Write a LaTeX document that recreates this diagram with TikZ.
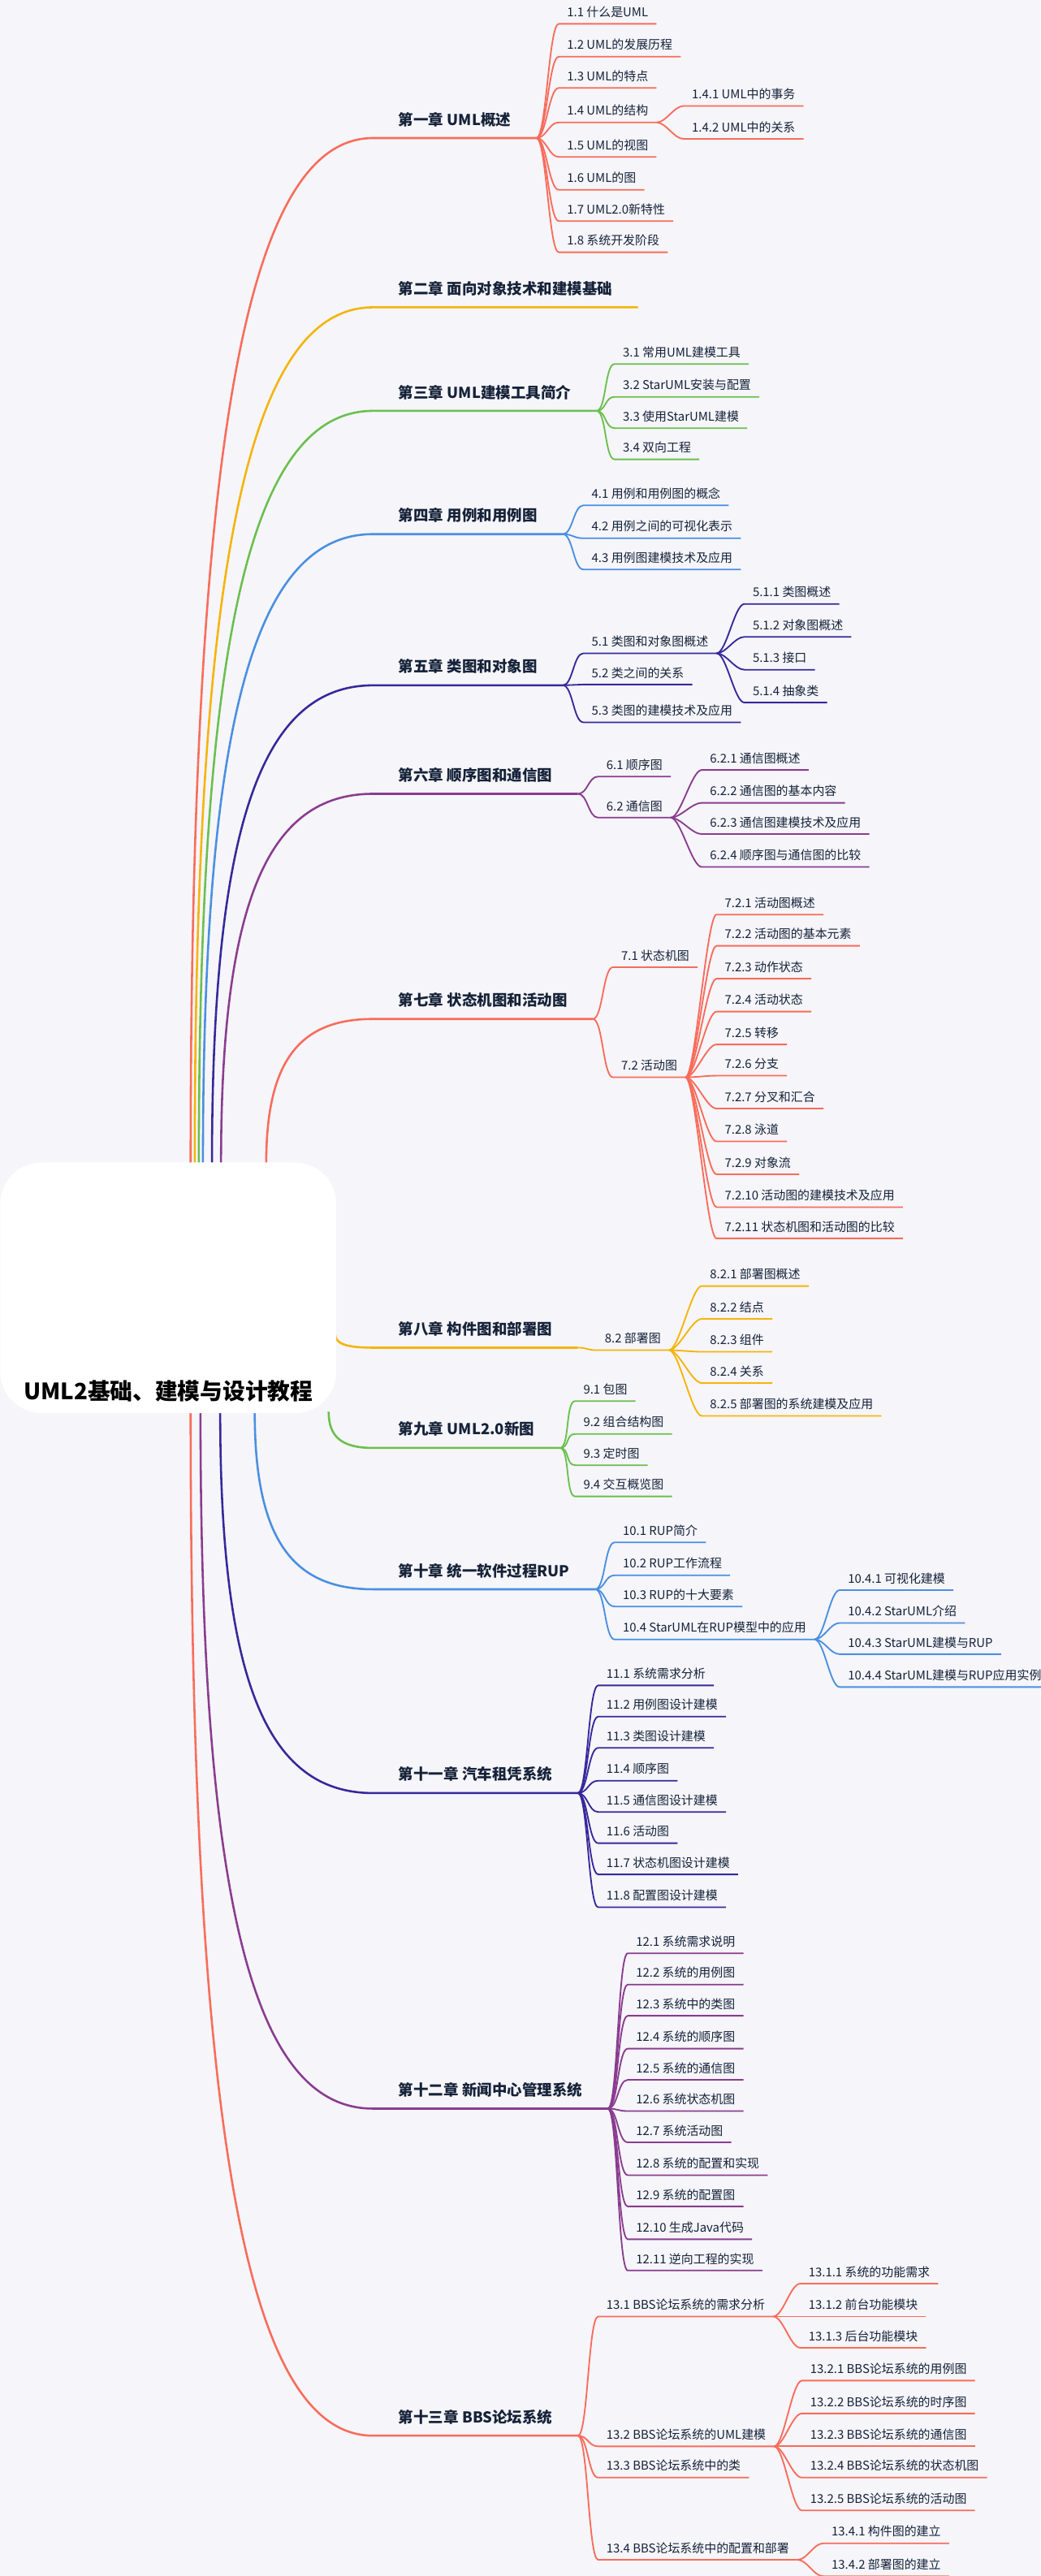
\documentclass[tikz,border=0pt]{standalone}
\usepackage{fontspec}
\setmainfont{Noto Sans CJK SC}
\usetikzlibrary{calc, positioning}
\definecolor{ured}{HTML}{F86C5A}
\definecolor{uorange}{HTML}{F5B40A}
\definecolor{ugreen}{HTML}{6BBF4E}
\definecolor{ublue}{HTML}{4A8FE0}
\definecolor{uindigo}{HTML}{36289A}
\definecolor{upurple}{HTML}{8A3C8E}
\definecolor{ink}{HTML}{152238}
\definecolor{paper}{HTML}{F5F5FA}
\tikzset{
  item/.style={anchor=south west, inner xsep=7pt, inner ysep=4pt, text depth=2pt,
    font=\fontsize{10.5}{12}\selectfont, text=ink},
  chapter/.style={anchor=south west, inner xsep=22pt, inner ysep=8pt, text depth=3pt,
    font=\bfseries\fontsize{13}{15}\selectfont, text=ink},
  rootbox/.style={anchor=south west, fill=white, rounded corners=36pt, inner xsep=0pt, inner ysep=0pt,
    minimum width=291pt, text height=205pt, text depth=12pt,
    font=\bfseries\fontsize{19.5}{22}\selectfont, text=black},
  link/.style={line width=1.3pt, to path={.. controls +(6,0) and +(-6,0) .. (\tikztotarget)}},
  trunk/.style={line width=1.8pt},
  uline/.style={line width=1.3pt},
}
% one chapter: trunk from the root, its underline
\newcommand{\trunkto}[3]{%
  \draw[trunk, #1] (#2) .. controls ($(#2)!0.7!(#2 |- #3.south west)$) and ($(#3.south west)!0.7!(#3.south west -| #2)$) .. (#3.south west) -- (#3.south east);}
% children of a node: link and underline
\newcommand{\kids}[3]{%
  \foreach \k in {#3} \draw[link, #1] (#2.south east) to (\k.south west) -- (\k.south east);}
\begin{document}
\begin{tikzpicture}[x=0.05cm, y=-0.05cm]
\fill[paper] (0,0) rectangle (633,1567.4);
\useasboundingbox (0,0) rectangle (633,1567.4);

% chapters
\node[chapter] (ch1) at (227,84) {第一章 UML概述};
\node[chapter] (ch2) at (227,187) {第二章 面向对象技术和建模基础};
\node[chapter] (ch3) at (227,250) {第三章 UML建模工具简介};
\node[chapter] (ch4) at (227,325) {第四章 用例和用例图};
\node[chapter] (ch5) at (227,417) {第五章 类图和对象图};
\node[chapter] (ch6) at (227,483) {第六章 顺序图和通信图};
\node[chapter] (ch7) at (227,620) {第七章 状态机图和活动图};
\node[chapter] (ch8) at (227,820) {第八章 构件图和部署图};
\node[chapter] (ch9) at (227,881) {第九章 UML2.0新图};
\node[chapter] (ch10) at (227,967) {第十章 统一软件过程RUP};
\node[chapter] (ch11) at (227,1091) {第十一章 汽车租凭系统};
\node[chapter] (ch12) at (227,1283) {第十二章 新闻中心管理系统};
\node[chapter] (ch13) at (227,1482) {第十三章 BBS论坛系统};

% chapter 1
\node[item] (s11) at (340,14.5) {1.1 什么是UML};
\node[item] (s12) at (340,34.5) {1.2 UML的发展历程};
\node[item] (s13) at (340,53.5) {1.3 UML的特点};
\node[item] (s14) at (340,74.5) {1.4 UML的结构};
\node[item] (s15) at (340,95.5) {1.5 UML的视图};
\node[item] (s16) at (340,115.5) {1.6 UML的图};
\node[item] (s17) at (340,134.5) {1.7 UML2.0新特性};
\node[item] (s18) at (340,153.5) {1.8 系统开发阶段};
\node[item] (s141) at (416,64.5) {1.4.1 UML中的事务};
\node[item] (s142) at (416,84.5) {1.4.2 UML中的关系};
% chapter 3
\node[item] (s31) at (374,221.5) {3.1 常用UML建模工具};
\node[item] (s32) at (374,241.5) {3.2 StarUML安装与配置};
\node[item] (s33) at (374,260.5) {3.3 使用StarUML建模};
\node[item] (s34) at (374,279.5) {3.4 双向工程};
% chapter 4
\node[item] (s41) at (355,307.5) {4.1 用例和用例图的概念};
\node[item] (s42) at (355,327.5) {4.2 用例之间的可视化表示};
\node[item] (s43) at (355,346.5) {4.3 用例图建模技术及应用};
% chapter 5
\node[item] (s51) at (355,397.5) {5.1 类图和对象图概述};
\node[item] (s52) at (355,416.5) {5.2 类之间的关系};
\node[item] (s53) at (355,439.5) {5.3 类图的建模技术及应用};
\node[item] (s511) at (453,367.5) {5.1.1 类图概述};
\node[item] (s512) at (453,387.5) {5.1.2 对象图概述};
\node[item] (s513) at (453,407.5) {5.1.3 接口};
\node[item] (s514) at (453,427.5) {5.1.4 抽象类};
% chapter 6
\node[item] (s61) at (364,472.5) {6.1 顺序图};
\node[item] (s62) at (364,497.5) {6.2 通信图};
\node[item] (s621) at (427,468.5) {6.2.1 通信图概述};
\node[item] (s622) at (427,488.5) {6.2.2 通信图的基本内容};
\node[item] (s623) at (427,507.5) {6.2.3 通信图建模技术及应用};
\node[item] (s624) at (427,527.5) {6.2.4 顺序图与通信图的比较};
% chapter 7
\node[item] (s71) at (373,588.5) {7.1 状态机图};
\node[item] (s72) at (373,655.5) {7.2 活动图};
\node[item] (s721) at (436,556.5) {7.2.1 活动图概述};
\node[item] (s722) at (436,575.5) {7.2.2 活动图的基本元素};
\node[item] (s723) at (436,595.5) {7.2.3 动作状态};
\node[item] (s724) at (436,615.5) {7.2.4 活动状态};
\node[item] (s725) at (436,635.5) {7.2.5 转移};
\node[item] (s726) at (436,654.5) {7.2.6 分支};
\node[item] (s727) at (436,674.5) {7.2.7 分叉和汇合};
\node[item] (s728) at (436,694.5) {7.2.8 泳道};
\node[item] (s729) at (436,714.5) {7.2.9 对象流};
\node[item] (s7210) at (436,734.5) {7.2.10 活动图的建模技术及应用};
\node[item] (s7211) at (436,753.5) {7.2.11 状态机图和活动图的比较};
% chapter 8
\node[item] (s82) at (363,821.5) {8.2 部署图};
\node[item] (s821) at (427,782.5) {8.2.1 部署图概述};
\node[item] (s822) at (427,802.5) {8.2.2 结点};
\node[item] (s823) at (427,822.5) {8.2.3 组件};
\node[item] (s824) at (427,841.5) {8.2.4 关系};
\node[item] (s825) at (427,861.5) {8.2.5 部署图的系统建模及应用};
% chapter 9
\node[item] (s91) at (350,852.5) {9.1 包图};
\node[item] (s92) at (350,872.5) {9.2 组合结构图};
\node[item] (s93) at (350,891.5) {9.3 定时图};
\node[item] (s94) at (350,910.5) {9.4 交互概览图};
% chapter 10
\node[item] (s101) at (374,938.5) {10.1 RUP简介};
\node[item] (s102) at (374,958.5) {10.2 RUP工作流程};
\node[item] (s103) at (374,977.5) {10.3 RUP的十大要素};
\node[item] (s104) at (374,997.5) {10.4 StarUML在RUP模型中的应用};
\node[item] (s1041) at (511,967.5) {10.4.1 可视化建模};
\node[item] (s1042) at (511,987.5) {10.4.2 StarUML介绍};
\node[item] (s1043) at (511,1006.5) {10.4.3 StarUML建模与RUP};
\node[item] (s1044) at (511,1026.5) {10.4.4 StarUML建模与RUP应用实例};
% chapter 11
\node[item] (s111) at (364,1025.5) {11.1 系统需求分析};
\node[item] (s112) at (364,1044.5) {11.2 用例图设计建模};
\node[item] (s113) at (364,1063.5) {11.3 类图设计建模};
\node[item] (s114) at (364,1083.5) {11.4 顺序图};
\node[item] (s115) at (364,1102.5) {11.5 通信图设计建模};
\node[item] (s116) at (364,1121.5) {11.6 活动图};
\node[item] (s117) at (364,1140.5) {11.7 状态机图设计建模};
\node[item] (s118) at (364,1160.5) {11.8 配置图设计建模};
% chapter 12
\node[item] (s121) at (382,1188.5) {12.1 系统需求说明};
\node[item] (s122) at (382,1207.5) {12.2 系统的用例图};
\node[item] (s123) at (382,1226.5) {12.3 系统中的类图};
\node[item] (s124) at (382,1246.5) {12.4 系统的顺序图};
\node[item] (s125) at (382,1265.5) {12.5 系统的通信图};
\node[item] (s126) at (382,1284.5) {12.6 系统状态机图};
\node[item] (s127) at (382,1303.5) {12.7 系统活动图};
\node[item] (s128) at (382,1323.5) {12.8 系统的配置和实现};
\node[item] (s129) at (382,1342.5) {12.9 系统的配置图};
\node[item] (s1210) at (382,1362.5) {12.10 生成Java代码};
\node[item] (s1211) at (382,1381.5) {12.11 逆向工程的实现};
% chapter 13
\node[item] (s131) at (364,1409.5) {13.1 BBS论坛系统的需求分析};
\node[item] (s132) at (364,1488.5) {13.2 BBS论坛系统的UML建模};
\node[item] (s133) at (364,1507.5) {13.3 BBS论坛系统中的类};
\node[item] (s134) at (364,1557.5) {13.4 BBS论坛系统中的配置和部署};
\node[item] (s1311) at (487,1389.5) {13.1.1 系统的功能需求};
\node[item] (s1312) at (487,1409.5) {13.1.2 前台功能模块};
\node[item] (s1313) at (487,1428.5) {13.1.3 后台功能模块};
\node[item] (s1321) at (488,1448.5) {13.2.1 BBS论坛系统的用例图};
\node[item] (s1322) at (488,1468.5) {13.2.2 BBS论坛系统的时序图};
\node[item] (s1323) at (488,1488.5) {13.2.3 BBS论坛系统的通信图};
\node[item] (s1324) at (488,1507.5) {13.2.4 BBS论坛系统的状态机图};
\node[item] (s1325) at (488,1527.5) {13.2.5 BBS论坛系统的活动图};
\node[item] (s1341) at (501,1547.5) {13.4.1 构件图的建立};
\node[item] (s1342) at (501,1567.5) {13.4.2 部署图的建立};

% trunks from the root
\coordinate (t1) at (116,708);  \coordinate (t2) at (118.5,708);
\coordinate (t3) at (121,708);  \coordinate (t4) at (123.5,708);
\coordinate (t5) at (129,708);  \coordinate (t6) at (134.5,708);
\coordinate (t7) at (162,708);  \coordinate (t8) at (204,812);
\coordinate (t9) at (200,859);  \coordinate (t10) at (155,859);
\coordinate (t11) at (134,859); \coordinate (t12) at (122,859);
\coordinate (t13) at (116,859);
\trunkto{ured}{t1}{ch1}
\trunkto{uorange}{t2}{ch2}
\trunkto{ugreen}{t3}{ch3}
\trunkto{ublue}{t4}{ch4}
\trunkto{uindigo}{t5}{ch5}
\trunkto{upurple}{t6}{ch6}
\trunkto{ured}{t7}{ch7}
\trunkto{uorange}{t8}{ch8}
\trunkto{ugreen}{t9}{ch9}
\trunkto{ublue}{t10}{ch10}
\trunkto{uindigo}{t11}{ch11}
\trunkto{upurple}{t12}{ch12}
\trunkto{ured}{t13}{ch13}

% branches
\kids{ured}{ch1}{s11,s12,s13,s14,s15,s16,s17,s18}
\kids{ured}{s14}{s141,s142}
\kids{ugreen}{ch3}{s31,s32,s33,s34}
\kids{ublue}{ch4}{s41,s42,s43}
\kids{uindigo}{ch5}{s51,s52,s53}
\kids{uindigo}{s51}{s511,s512,s513,s514}
\kids{upurple}{ch6}{s61,s62}
\kids{upurple}{s62}{s621,s622,s623,s624}
\kids{ured}{ch7}{s71,s72}
\kids{ured}{s72}{s721,s722,s723,s724,s725,s726,s727,s728,s729,s7210,s7211}
\kids{uorange}{ch8}{s82}
\kids{uorange}{s82}{s821,s822,s823,s824,s825}
\kids{ugreen}{ch9}{s91,s92,s93,s94}
\kids{ublue}{ch10}{s101,s102,s103,s104}
\kids{ublue}{s104}{s1041,s1042,s1043,s1044}
\kids{uindigo}{ch11}{s111,s112,s113,s114,s115,s116,s117,s118}
\kids{upurple}{ch12}{s121,s122,s123,s124,s125,s126,s127,s128,s129,s1210,s1211}
\kids{ured}{ch13}{s131,s132,s133,s134}
\kids{ured}{s131}{s1311,s1312,s1313}
\kids{ured}{s132}{s1321,s1322,s1323,s1324,s1325}
\kids{ured}{s134}{s1341,s1342}

% root
\node[rootbox] (root) at (0,860) {UML2基础、建模与设计教程};
\end{tikzpicture}
\end{document}
